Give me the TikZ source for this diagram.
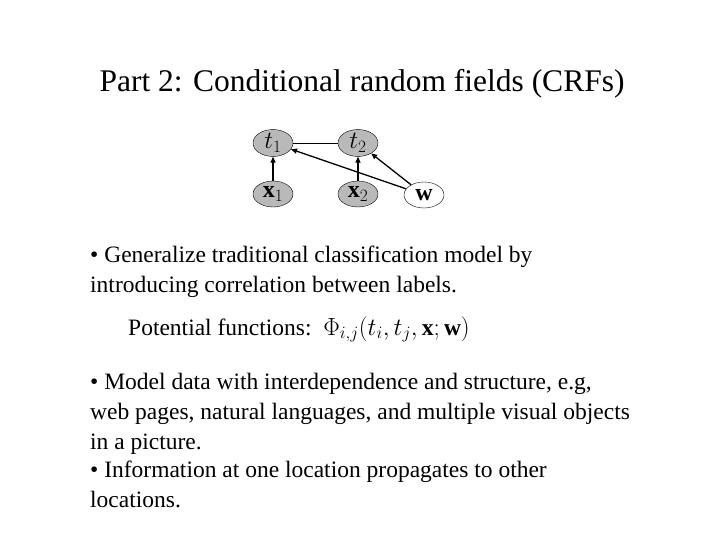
\documentclass[tikz,border=0pt]{standalone}
\usepackage{fontspec}
\setmainfont{Liberation Serif}
\usepackage{amsmath}
\usetikzlibrary{shapes.geometric,arrows.meta}
\begin{document}
\begin{tikzpicture}[x=1pt,y=-1pt,
    var/.style={ellipse, draw, fill=gray!55, minimum width=40pt, minimum height=26pt, inner sep=0pt, font=\fontsize{24}{24}\selectfont},
    obs/.style={var, fill=white},
    dep/.style={-{Triangle[length=6pt,width=5pt]}, line width=1.3pt},
    body/.style={anchor=north west, align=left, inner sep=0pt, font=\fontsize{23.5}{30}\selectfont}]
    \useasboundingbox (0,0) rectangle (720,540);
    % Titel
    \node[anchor=base] (title) at (362,92) {\fontsize{31.5}{34}\selectfont Part 2: Conditional random fields (CRFs)};
    % Graph
    \node[var] (t1) at (273,143) {$t_1$};
    \node[var] (t2) at (358,143) {$t_2$};
    \node[var] (x1) at (273,194) {$\mathbf{x}_1$};
    \node[var] (x2) at (358,194) {$\mathbf{x}_2$};
    \node[obs] (w) at (424,195) {$\mathbf{w}$};
    \draw (t1) -- (t2);
    \draw[dep] (x1) -- (t1);
    \draw[dep] (x2) -- (t2);
    \draw[dep] (w) -- (t1);
    \draw[dep] (w) -- (t2);
    % Text
    \node[body] (b1) at (90,246) {\textbullet{} Generalize traditional classification model by\\introducing correlation between labels.};
    \node[body, anchor=base west] (pf) at (128,335) {Potential functions:\ \ $\Phi_{i,j}(t_i,t_j,\mathbf{x};\mathbf{w})$};
    \node[body] (b2) at (90,373) {\textbullet{} Model data with interdependence and structure, e.g,\\web pages, natural languages, and multiple visual objects\\in a picture.};
    \node[body] (b3) at (90,461) {\textbullet{} Information at one location propagates to other\\locations.};
\end{tikzpicture}
\end{document}
